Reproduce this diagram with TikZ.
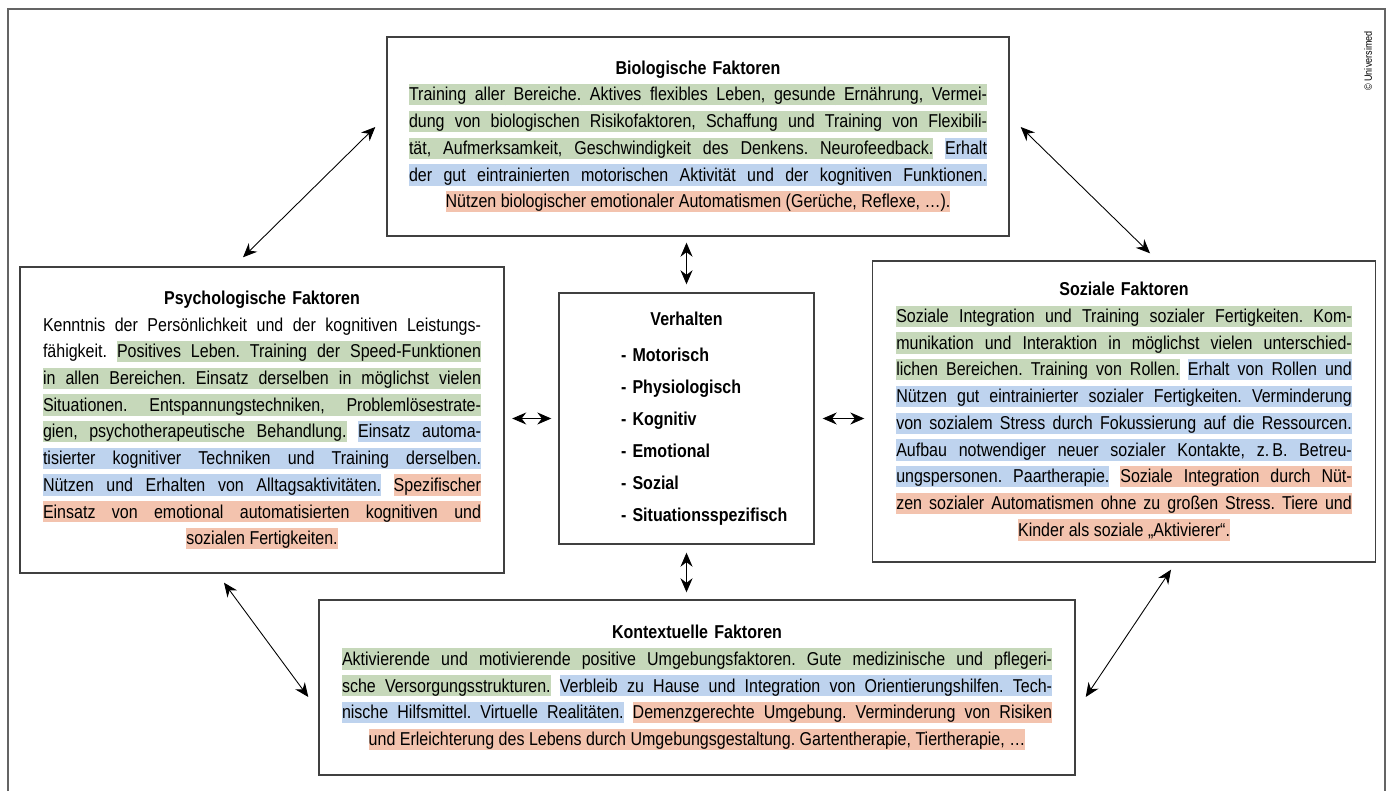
\documentclass[tikz,border=0pt]{standalone}
\usepackage{fontspec}
\setmainfont[FakeStretch=0.86]{Liberation Sans}
\usetikzlibrary{arrows.meta}

\definecolor{hlgreen}{RGB}{198,216,186}
\definecolor{hlblue}{RGB}{190,211,238}
\definecolor{hlred}{RGB}{243,195,174}
\definecolor{boxgray}{RGB}{64,64,64}
\definecolor{framegray}{RGB}{100,100,100}

\setlength\parindent{0pt}
\newlength\hlH \setlength\hlH{9.6pt}
\newlength\hlD \setlength\hlD{2.5pt}
\newcommand\hlword[2]{\setbox0\hbox{#2}\rlap{\color{#1}\vrule height\hlH depth\hlD width\wd0}\box0}
\newcommand\hlspace[1]{{\color{#1}\leaders\vrule height\hlH depth\hlD\hskip\fontdimen2\font plus\fontdimen3\font minus\fontdimen4\font}}
\newcommand\jline[1]{\noindent\hbox to\hsize{\spaceskip=0pt\xspaceskip=0pt\relax #1}}
\ExplSyntaxOn
\seq_new:N \l__hlseg_seq
\bool_new:N \l__hlseg_first_bool
\NewDocumentCommand \hlseg { m m }
  {
    \noindent
    \seq_set_split:Nnn \l__hlseg_seq { ~ } {#2}
    \bool_set_true:N \l__hlseg_first_bool
    \seq_map_inline:Nn \l__hlseg_seq
      {
        \bool_if:NTF \l__hlseg_first_bool
          { \bool_set_false:N \l__hlseg_first_bool }
          { \hlspace {#1} }
        \hlword {#1} {##1}
      }
  }
\ExplSyntaxOff

\begin{document}
\frenchspacing
\begin{tikzpicture}[
  >={Stealth[length=2.8mm,width=2.4mm]},
  box/.style={draw=boxgray, line width=0.8pt, inner sep=0pt, align=center, font=\fontsize{10.6pt}{15.2pt}\selectfont},
  biarrow/.style={<->, line width=0.5pt}]
\useasboundingbox (0,0) rectangle (27.78,15.82);
\draw[framegray, line width=1.1pt] (0.16,0) -- (0.16,15.64) -- (27.70,15.64) -- (27.70,0);
\node[rotate=90, font=\fontsize{6pt}{7pt}\selectfont] (copy) at (27.36,14.60) {© Universimed};

\node[box, text width=11.56cm, minimum width=12.44cm, minimum height=3.98cm] (bio) at (13.96,13.09) {\textbf{Biologische Faktoren}\\
\jline{\hlseg{hlgreen}{Training aller Bereiche. Aktives flexibles Leben, gesunde Ernährung, Vermei-}}\\
\jline{\hlseg{hlgreen}{dung von biologischen Risikofaktoren, Schaffung und Training von Flexibili-}}\\
\jline{\hlseg{hlgreen}{tät, Aufmerksamkeit, Geschwindigkeit des Denkens. Neurofeedback.} \hlseg{hlblue}{Erhalt}}\\
\jline{\hlseg{hlblue}{der gut eintrainierten motorischen Aktivität und der kognitiven Funktionen.}}\\
\jline{\hfil\hlseg{hlred}{Nützen biologischer emotionaler Automatismen (Gerüche, Reflexe, …).}\hfil}};

\node[box, text width=8.76cm, minimum width=9.68cm, minimum height=6.12cm] (psych) at (5.24,7.42) {\textbf{Psychologische Faktoren}\\
\jline{Kenntnis der Persönlichkeit und der kognitiven Leistungs-}\\
\jline{fähigkeit. \hlseg{hlgreen}{Positives Leben. Training der Speed-Funktionen}}\\
\jline{\hlseg{hlgreen}{in allen Bereichen. Einsatz derselben in möglichst vielen}}\\
\jline{\hlseg{hlgreen}{Situationen. Entspannungstechniken, Problemlösestrate-}}\\
\jline{\hlseg{hlgreen}{gien, psychotherapeutische Behandlung.} \hlseg{hlblue}{Einsatz automa-}}\\
\jline{\hlseg{hlblue}{tisierter kognitiver Techniken und Training derselben.}}\\
\jline{\hlseg{hlblue}{Nützen und Erhalten von Alltagsaktivitäten.} \hlseg{hlred}{Spezifischer}}\\
\jline{\hlseg{hlred}{Einsatz von emotional automatisierten kognitiven und}}\\
\jline{\hfil\hlseg{hlred}{sozialen Fertigkeiten.}\hfil}};

\node[box, text width=4.2cm, align=left, minimum width=5.10cm, minimum height=5.02cm, font=\bfseries\fontsize{10.6pt}{18.2pt}\selectfont] (verh) at (13.73,7.45) {\jline{\hfil Verhalten\hfil}\\[2.3pt]
\noindent\hspace*{0.79cm}-~Motorisch\\
\noindent\hspace*{0.79cm}-~Physiologisch\\
\noindent\hspace*{0.79cm}-~Kognitiv\\
\noindent\hspace*{0.79cm}-~Emotional\\
\noindent\hspace*{0.79cm}-~Sozial\\
\noindent\hspace*{0.79cm}-~Situationsspezifisch\\[-8pt]};

\node[box, text width=9.11cm, minimum width=10.06cm, minimum height=6.02cm] (soz) at (22.48,7.59) {\textbf{Soziale Faktoren}\\
\jline{\hlseg{hlgreen}{Soziale Integration und Training sozialer Fertigkeiten. Kom-}}\\
\jline{\hlseg{hlgreen}{munikation und Interaktion in möglichst vielen unterschied-}}\\
\jline{\hlseg{hlgreen}{lichen Bereichen. Training von Rollen.} \hlseg{hlblue}{Erhalt von Rollen und}}\\
\jline{\hlseg{hlblue}{Nützen gut eintrainierter sozialer Fertigkeiten. Verminderung}}\\
\jline{\hlseg{hlblue}{von sozialem Stress durch Fokussierung auf die Ressourcen.}}\\
\jline{\hlseg{hlblue}{Aufbau notwendiger neuer sozialer Kontakte, z.\,B. Betreu-}}\\
\jline{\hlseg{hlblue}{ungspersonen. Paartherapie.} \hlseg{hlred}{Soziale Integration durch Nüt-}}\\
\jline{\hlseg{hlred}{zen sozialer Automatismen ohne zu großen Stress. Tiere und}}\\
\jline{\hfil\hlseg{hlred}{Kinder als soziale „Aktivierer“.}\hfil}};

\node[box, text width=14.20cm, minimum width=15.12cm, minimum height=3.50cm] (kont) at (13.94,2.07) {\textbf{Kontextuelle Faktoren}\\
\jline{\hlseg{hlgreen}{Aktivierende und motivierende positive Umgebungsfaktoren. Gute medizinische und pflegeri-}}\\
\jline{\hlseg{hlgreen}{sche Versorgungsstrukturen.} \hlseg{hlblue}{Verbleib zu Hause und Integration von Orientierungshilfen. Tech-}}\\
\jline{\hlseg{hlblue}{nische Hilfsmittel. Virtuelle Realitäten.} \hlseg{hlred}{Demenzgerechte Umgebung. Verminderung von Risiken}}\\
\jline{\hfil\hlseg{hlred}{und Erleichterung des Lebens durch Umgebungsgestaltung. Gartentherapie, Tiertherapie, …}\hfil}};

\draw[biarrow] ([shift={(-0.22,0.19)}]bio.west) -- ([shift={(-0.38,0.18)}]psych.north);
\draw[biarrow] ([shift={(0.22,0.19)}]bio.east) -- ([shift={(0.52,0.14)}]soz.north);
\draw[biarrow, shorten <=0.12cm, shorten >=0.16cm] (bio.south -| verh.north) -- (verh.north);
\draw[biarrow, shorten <=0.16cm, shorten >=0.14cm] (verh.south) -- (verh.south |- kont.north);
\draw[biarrow, shorten <=0.15cm, shorten >=0.14cm] (verh.west -| psych.east) -- (verh.west);
\draw[biarrow, shorten <=0.16cm, shorten >=0.15cm] (verh.east) -- (verh.east -| soz.west);
\draw[biarrow] ([shift={(-0.76,-0.18)}]psych.south) -- ([shift={(-0.20,-0.19)}]kont.west);
\draw[biarrow] ([shift={(0.94,-0.14)}]soz.south) -- ([shift={(0.20,-0.19)}]kont.east);
\end{tikzpicture}
\end{document}
